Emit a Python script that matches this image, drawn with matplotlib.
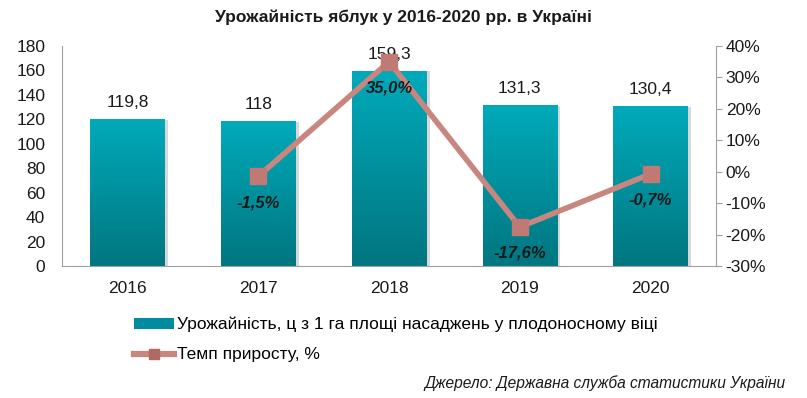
import numpy as np
import matplotlib
matplotlib.use("Agg")
import matplotlib.pyplot as plt
from matplotlib.lines import Line2D
from matplotlib.patches import Patch
from matplotlib.colors import LinearSegmentedColormap

plt.rcParams['font.family'] = ['Liberation Sans', 'DejaVu Sans']

years = ['2016', '2017', '2018', '2019', '2020']
yields = [119.8, 118, 159.3, 131.3, 130.4]
yield_labels = ['119,8', '118', '159,3', '131,3', '130,4']
growth_years = [1, 2, 3, 4]
growth = [-1.5, 35.0, -17.6, -0.7]
growth_labels = ['-1,5%', '35,0%', '-17,6%', '-0,7%']

title = 'Урожайність яблук у 2016-2020 рр. в Україні'
bar_legend = 'Урожайність, ц з 1 га площі насаджень у плодоносному віці'
line_legend = 'Темп приросту, %'
source = 'Джерело: Державна служба статистики України'

FS = 12.5

fig = plt.figure(figsize=(8.07, 3.98), dpi=100)
ax = fig.add_axes([62/807, 1-266/398, (716-62)/807, (266-46)/398])

x = np.arange(len(years))
bw = 0.57
top_c = (0/255, 170/255, 186/255)
bot_c = (0/255, 118/255, 128/255)
cmap = LinearSegmentedColormap.from_list('g', [bot_c, top_c])
grad = np.linspace(0, 1, 256).reshape(-1, 1)

bars = ax.bar(x, yields, width=bw, color='none', edgecolor='none', zorder=2)
for xi, h in zip(x, yields):
    ax.bar(xi + 0.025, h, width=bw, color='#d8d8d8', edgecolor='none', zorder=1)
    ax.imshow(grad, extent=[xi - bw/2, xi + bw/2, 0, h], origin='lower',
              cmap=cmap, aspect='auto', zorder=2)
for xi, h, lab in zip(x, yields, yield_labels):
    ax.annotate(lab, (xi, h), xytext=(0, 7), textcoords='offset points',
                ha='center', va='bottom', fontsize=FS, color='#1a1a1a')

ax.set_xlim(-0.5, len(years) - 0.5)
ax.set_ylim(0, 180)
ax.set_yticks(np.arange(0, 181, 20))
ax.set_xticks(x)
ax.set_xticklabels(years)
ax.tick_params(axis='y', length=0, labelsize=FS, pad=12, colors='#1a1a1a')
ax.tick_params(axis='x', length=0, labelsize=FS, pad=11, colors='#1a1a1a')
for s in ['top', 'right']:
    ax.spines[s].set_visible(False)
ax.spines['left'].set_color('#a0a0a0')
ax.spines['bottom'].set_color('#a0a0a0')

ax2 = ax.twinx()
ax2.set_ylim(-30, 40)
ax2.set_yticks(np.arange(-30, 41, 10))
ax2.set_yticklabels([f'{v}%' for v in range(-30, 41, 10)])
ax2.tick_params(axis='y', length=4, color='#a0a0a0', labelsize=FS, pad=3, colors='#1a1a1a')
for s in ['top', 'left', 'bottom']:
    ax2.spines[s].set_visible(False)
ax2.spines['right'].set_color('#a0a0a0')

line_c = '#c9867f'
ax2.plot(growth_years, growth, color=line_c, lw=4.0, solid_joinstyle='miter',
         marker='s', markersize=11, markerfacecolor='#c07a73',
         markeredgecolor='#c07a73', zorder=3)
for xi, v, lab in zip(growth_years, growth, growth_labels):
    ax2.annotate(lab, (xi, v), xytext=(0, -19), textcoords='offset points',
                 ha='center', va='center', fontsize=12, fontweight='bold',
                 fontstyle='italic', color='#1a1a1a')

fig.text(0.5, 1 - 17/398, title, ha='center', va='center', fontsize=FS,
         fontweight='bold', color='#1a1a1a')

handles = [Patch(facecolor=(0, 0.55, 0.62), edgecolor='none'),
           Line2D([0], [0], color=line_c, lw=4.5, marker='s', markersize=7,
                  markerfacecolor='#b06a64', markeredgecolor='#b06a64')]
fig.legend(handles, [bar_legend, line_legend], loc='upper left',
           bbox_to_anchor=(134/807, 1 - 317/398), frameon=False, fontsize=FS,
           handlelength=2.3, handleheight=0.55, handletextpad=0.15,
           labelspacing=0.85, borderpad=0, borderaxespad=0)

fig.text(786/807, 1 - 383/398, source, ha='right', va='center', fontsize=11.2,
         fontstyle='italic', color='#1a1a1a')

fig.savefig('out.png', dpi=100)
